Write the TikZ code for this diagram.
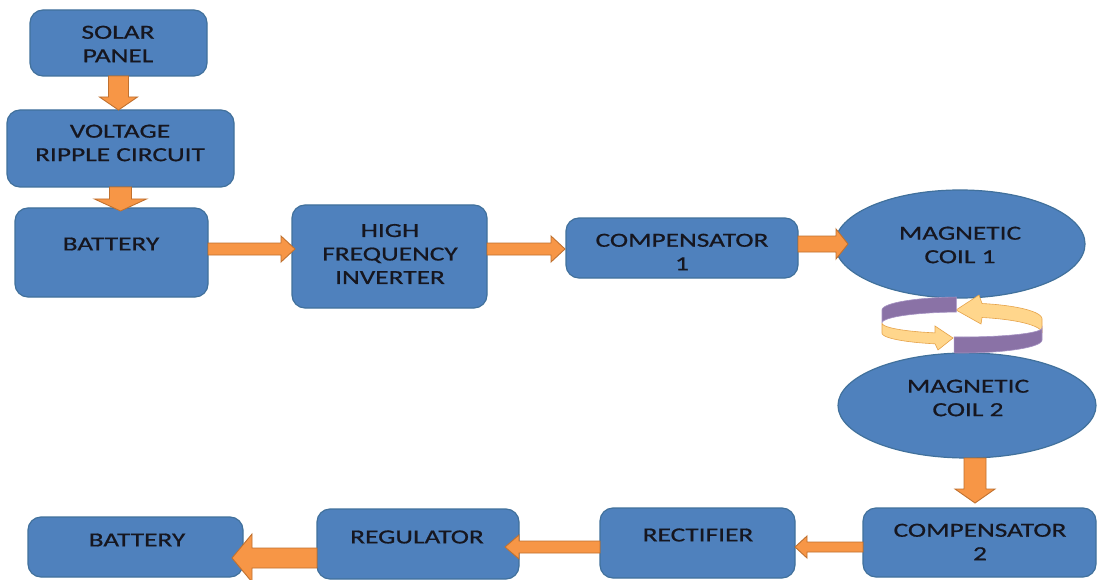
\documentclass[tikz,border=0pt]{standalone}
\usepackage{fontspec}
\setmainfont{Carlito}[FakeStretch=1.37,FakeBold=0.7]
\usetikzlibrary{shapes.geometric,calc}
\definecolor{bluefill}{HTML}{4F81BD}
\definecolor{blueline}{HTML}{41719C}
\definecolor{orfill}{HTML}{F79646}
\definecolor{orline}{HTML}{C0712F}
\definecolor{txt}{HTML}{16161F}
\definecolor{ringp}{HTML}{8A72A6}
\definecolor{ringpl}{HTML}{A592C2}
\definecolor{ringy}{HTML}{FFD68C}
\definecolor{ringyl}{HTML}{E6A34A}
\tikzset{
  box/.style={draw=blueline, fill=bluefill, line width=1.2pt, rounded corners=13pt, inner sep=0pt, outer sep=0pt},
  coil/.style={ellipse, draw=blueline, fill=bluefill, line width=1.2pt, inner sep=0pt, outer sep=0pt},
  lbl/.style={text=txt, font=\fontsize{20}{23.5}\selectfont, align=center, inner sep=0pt},
  barrow/.style n args={3}{draw=orline, fill=orfill, line width=0.9pt, line join=miter,
    to path={
      ($(\tikztostart)!#1!90:(\tikztotarget)$)
      -- ($($(\tikztotarget)!#3!(\tikztostart)$)!#1!-90:(\tikztostart)$)
      -- ($($(\tikztotarget)!#3!(\tikztostart)$)!#2!-90:(\tikztostart)$)
      -- (\tikztotarget)
      -- ($($(\tikztotarget)!#3!(\tikztostart)$)!#2!90:(\tikztostart)$)
      -- ($($(\tikztotarget)!#3!(\tikztostart)$)!#1!90:(\tikztostart)$)
      -- ($(\tikztostart)!#1!-90:(\tikztotarget)$)
      -- cycle}},
  ringpurple/.style={fill=ringp, draw=ringpl, line width=0.6pt},
  ringyellow/.style={fill=ringy, draw=ringyl, line width=0.6pt}
}
\begin{document}
\begin{tikzpicture}[x=1pt,y=-1pt]
\useasboundingbox (0,0) rectangle (1097,580);
\fill[white] (0,0) rectangle (1097,580);

% boxes
\node[box, minimum width=177pt, minimum height=66pt] (solar) at (118.5,43) {};
\node[box, minimum width=227pt, minimum height=77pt] (volt) at (120.5,148.5) {};
\node[box, minimum width=193pt, minimum height=89pt] (bat1) at (111.5,252.5) {};
\node[box, minimum width=195pt, minimum height=103pt] (hf) at (389.5,256.5) {};
\node[box, minimum width=232pt, minimum height=60pt] (comp1) at (682,248) {};
\node[coil, minimum width=250pt, minimum height=108pt] (coil1) at (960,244) {};
\node[coil, minimum width=258pt, minimum height=105pt] (coil2) at (967,405.5) {};
\node[box, minimum width=233pt, minimum height=69pt] (comp2) at (979.5,542.5) {};
\node[box, minimum width=195pt, minimum height=70pt] (rect) at (697.5,543) {};
\node[box, minimum width=202pt, minimum height=70pt] (reg) at (418,544) {};
\node[box, minimum width=215pt, minimum height=60pt] (bat2) at (135.5,547) {};

% labels
\node[lbl] (solar-t) at (118,44) {SOLAR\\PANEL};
\node[lbl] (volt-t) at (120,143) {VOLTAGE\\RIPPLE CIRCUIT};
\node[lbl] (bat1-t) at (111,244) {BATTERY};
\node[lbl] (hf-t) at (390,254) {HIGH\\FREQUENCY\\INVERTER};
\node[lbl] (comp1-t) at (682,252) {COMPENSATOR\\1};
\node[lbl] (coil1-t) at (960,245) {MAGNETIC\\COIL 1};
\node[lbl] (coil2-t) at (968,398) {MAGNETIC\\COIL 2};
\node[lbl] (comp2-t) at (980,542) {COMPENSATOR\\2};
\node[lbl] (rect-t) at (698,535) {RECTIFIER};
\node[lbl] (reg-t) at (417,537) {REGULATOR};
\node[lbl] (bat2-t) at (137,540) {BATTERY};

% block arrows
\draw[barrow={10pt}{19pt}{13pt}] (solar.south) to (solar.south |- volt.north);
\draw[barrow={11pt}{26pt}{12pt}] (volt.south) to ($(volt.south |- bat1.north)+(0,3)$);
\draw[barrow={6pt}{13pt}{14pt}] ($(bat1.east)+(0,-3.5)$) to ($(hf.west)+(3,-7.5)$);
\draw[barrow={6pt}{13pt}{14pt}] ($(hf.east)+(0,-7.5)$) to ($(comp1.west)+(-1,1)$);
\draw[barrow={8pt}{15pt}{12pt}] ($(comp1.east)+(0,-4)$) to ($(coil1.west)+(13,0)$);
\draw[barrow={11pt}{20pt}{14pt}] ($(coil2.south)+(8,0)$) to ($(comp2.north)+(-4.5,-5)$);
\draw[barrow={5pt}{11pt}{12pt}] ($(comp2.west)+(0,4.5)$) to ($(rect.east)+(0,4)$);
\draw[barrow={6pt}{12pt}{14pt}] ($(rect.west)+(0,4)$) to ($(reg.east)+(-14,3)$);
\draw[barrow={10pt}{24pt}{20pt}] ($(reg.west)+(0,14)$) to ($(bat2.east)+(-11,11)$);

% coupling ring
\draw[ringyellow] plot[domain=360:284.5, samples=30] ({962+80*cos(\x)},{319+16*sin(\x)})
  -- (979,295) -- (956,310) -- (981,324)
  -- plot[domain=284.5:360, samples=30] ({962+80*cos(\x)},{333+16*sin(\x)}) -- cycle;
\draw[ringpurple] plot[domain=180:266, samples=30] ({962+80*cos(\x)},{310+13*sin(\x)})
  -- plot[domain=266:180, samples=30] ({962+80*cos(\x)},{323+11*sin(\x)}) -- cycle;
\draw[ringyellow] plot[domain=180:109.7, samples=30] ({962+80*cos(\x)},{323+10.5*sin(\x)})
  -- (935,326) -- (953,338) -- (938,350)
  -- plot[domain=109.7:180, samples=30] ({962+80*cos(\x)},{333+11.5*sin(\x)}) -- cycle;
\draw[ringpurple] plot[domain=95.7:0, samples=30] ({962+80*cos(\x)},{328+9*sin(\x)})
  -- plot[domain=0:95.7, samples=30] ({962+80*cos(\x)},{340+13*sin(\x)}) -- cycle;
\end{tikzpicture}
\end{document}
